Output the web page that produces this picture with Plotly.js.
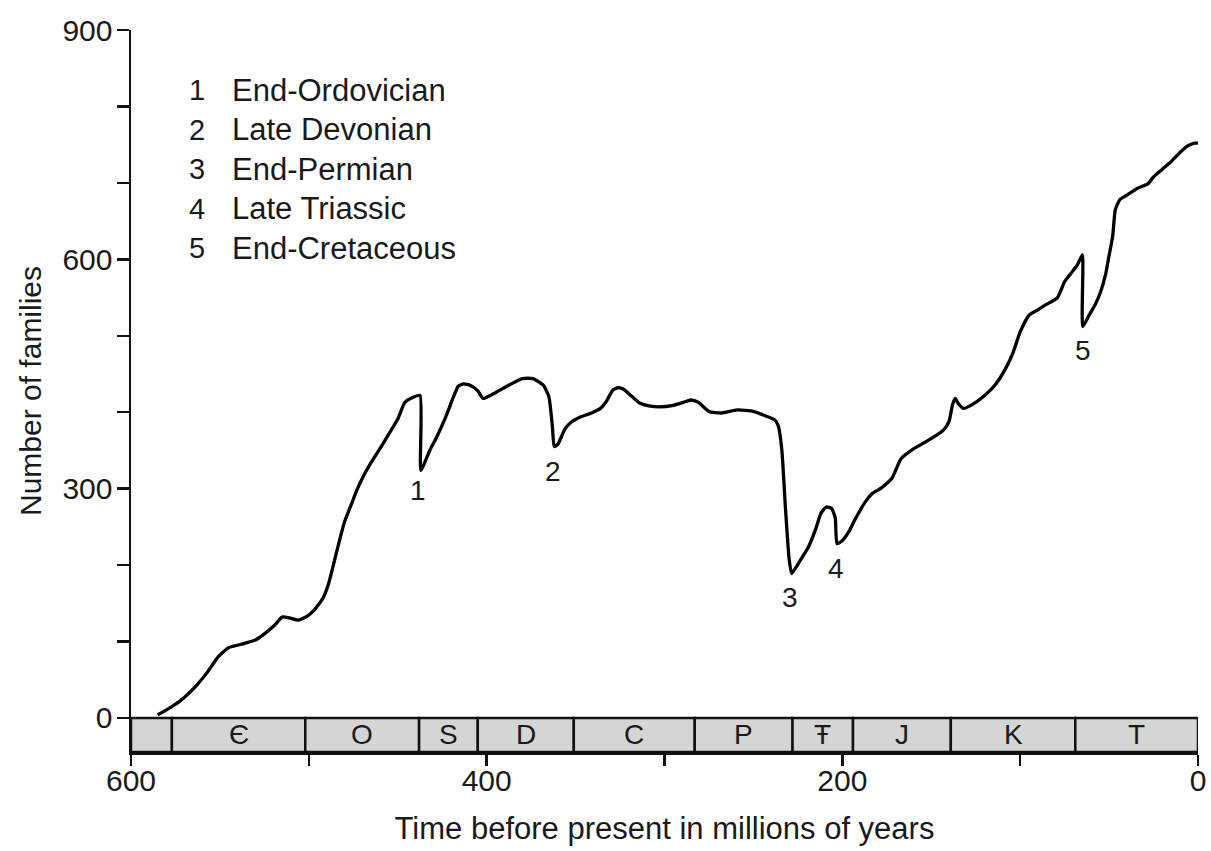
<!DOCTYPE html>
<html>
<head>
<meta charset="utf-8">
<script src="https://cdn.plot.ly/plotly-3.0.1.min.js"></script>
<style>html,body{margin:0;padding:0;background:#fff;}#chart{width:1211px;height:851px;}</style>
</head>
<body>
<div id="chart"></div>
<script>
// Time before present (millions of years)
const timeMa = [585,577,572,563,557,551,545,537,530,525,519,515,511,506,501,497,492,489,486,483,480,476,473,469,465,458,450,446,442,437.5,437,432,428,423,419,416,413,409,405,402,398,394,387,380,374,368,365,363,362,360,356,353,347,341,336,333,329,326,323,319,314,308,303,295,288,285,281,275,268,259,250,243,238,236,234,232,230,228.5,224,219,215,212,209,206,204,203,200,196,193,187,183,178,172,167,160,154,149,143,140,138,136.5,135,132,127,121,114,108,104,100,95,90,86,79,75,72,68,65,64.8,61,58,55,52,50,48,46.5,44,40,34,28,25,20,15,10,6,2,0];
// Number of marine families
const families = [4,15,23,43,60,80,92,97,102,110,122,132,131,128,133,141,157,175,202,230,256,280,298,318,334,360,391,413,419,422,324,350,368,394,418,434,437,435,428,418,422,427,436,444,444,435,420,380,355,358,378,386,394,399,405,413,429,432,430,422,412,408,407,409,414,416,413,401,399,403,401,395,390,382,350,275,210,189,205,224,247,268,276,274,262,228,232,245,259,283,294,301,314,339,352,360,367,377,388,410,418,412,405,410,420,436,458,478,505,527,534,540,550,571,580,592,606,512,528,540,556,580,605,630,665,678,684,693,699,708,718,728,740,748,752,752];

// Geological time scale bar
const periodBounds = [600,577,502,438,405,351,283,228,194,139,69,0];
const periodLabels = ["", "Є", "O", "S", "D", "C", "P", "Ŧ", "J", "K", "T"];

// Mass extinctions
const extNums = ["1","2","3","4","5"];
const extNames = ["End-Ordovician","Late Devonian","End-Permian","Late Triassic","End-Cretaceous"];
const extLabelTime = [438.4, 362.5, 229.2, 203.3, 64.6];
const extLabelFamilies = [298, 322, 157, 196, 481];

const FONT = "Liberation Sans, Arial, Helvetica, sans-serif";
const TXT = "#1a1a1a";
const barBottom = -44.5;

const shapes = [];
const annotations = [];
for (let i = 0; i < periodBounds.length - 1; i++) {
  shapes.push({type:'rect', xref:'x', yref:'y', x0:periodBounds[i], x1:periodBounds[i+1], y0:0, y1:barBottom,
    fillcolor:'#d5d5d5', line:{color:'#111', width:2.5}, layer:'below'});
  if (periodLabels[i]) {
    annotations.push({xref:'x', yref:'y', x:(periodBounds[i]+periodBounds[i+1])/2, y:barBottom/2,
      text:periodLabels[i], showarrow:false, font:{family:FONT, size:28, color:TXT}, xanchor:'center', yanchor:'middle'});
  }
}
for (let i = 0; i < extNums.length; i++) {
  annotations.push({xref:'x', yref:'y', x:extLabelTime[i], y:extLabelFamilies[i], text:extNums[i], showarrow:false,
    font:{family:FONT, size:28, color:TXT}, xanchor:'center', yanchor:'middle'});
  // legend entries
  const yp = 0.9168 - i*0.0547;
  annotations.push({xref:'paper', yref:'paper', x:0.0621, y:yp, text:extNums[i], showarrow:false,
    font:{family:FONT, size:29, color:TXT}, xanchor:'center', yanchor:'middle'});
  annotations.push({xref:'paper', yref:'paper', x:0.0925, y:yp, text:extNames[i], showarrow:false,
    font:{family:FONT, size:31, color:TXT}, xanchor:'left', yanchor:'middle'});
}

const trace = {x:timeMa, y:families, type:'scatter', mode:'lines',
  line:{color:'#000', width:3.3, shape:'spline', smoothing:0.5}, hoverinfo:'skip'};

const layout = {
  width:1211, height:851,
  margin:{l:130.7, r:13.3, t:30, b:99.3},
  paper_bgcolor:'#fff', plot_bgcolor:'#fff',
  showlegend:false,
  xaxis:{range:[600,0], showgrid:false, zeroline:false, showline:true, linecolor:'#111', linewidth:2.5,
    ticks:'outside', tickvals:[600,400,200,0], ticklen:11, tickwidth:2.5, tickcolor:'#111',
    minor:{tickvals:[500,300,100], ticks:'outside', ticklen:11, tickwidth:2.5, tickcolor:'#111'},
    tickfont:{family:FONT, size:30, color:TXT}, ticklabelstandoff:-11,
    title:{text:'Time before present in millions of years', font:{family:FONT, size:31, color:TXT}, standoff:22}},
  yaxis:{range:[barBottom,900], showgrid:false, zeroline:false, showline:true, linecolor:'#111', linewidth:2.5,
    ticks:'outside', tickvals:[0,300,600,900], ticklen:12, tickwidth:2.5, tickcolor:'#111',
    minor:{tickvals:[100,200,400,500,700,800], ticks:'outside', ticklen:12, tickwidth:2.5, tickcolor:'#111'},
    tickfont:{family:FONT, size:30, color:TXT}, ticklabelstandoff:-2,
    title:{text:'Number of families', font:{family:FONT, size:30, color:TXT}, standoff:12}},
  shapes:shapes,
  annotations:annotations
};

Plotly.newPlot('chart', [trace], layout, {displayModeBar:false, staticPlot:true});
</script>
</body>
</html>
